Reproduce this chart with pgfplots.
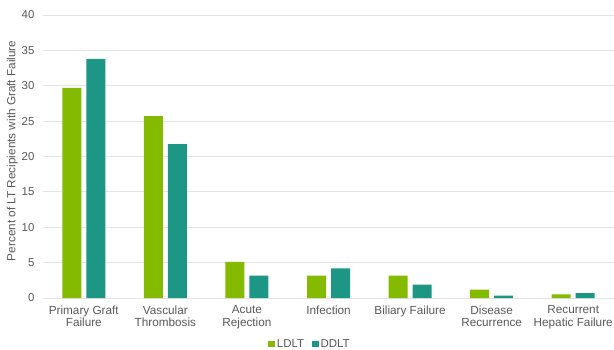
\documentclass[border=0pt]{standalone}
\usepackage{pgfplots}
\pgfplotsset{compat=1.18}
\usepackage{fontspec}
\setmainfont{Liberation Sans}
\definecolor{ldlt}{RGB}{132,187,0}
\definecolor{ddlt}{RGB}{29,150,134}
\definecolor{txt}{RGB}{89,89,89}
\definecolor{gridc}{RGB}{228,228,228}
\begin{document}
\begin{tikzpicture}
\path[use as bounding box] (-43bp,-52bp) rectangle (571bp,298bp);
\begin{axis}[
  at={(0,0)}, anchor=south west,
  scale only axis, width=571bp, height=283bp,
  ymin=0, ymax=40, ytick={0,5,...,40},
  xmin=-0.5, xmax=6.5,
  xtick={0,...,6},
  xticklabels={Primary Graft\\Failure, Vascular\\Thrombosis, Acute\\Rejection, Infection, Biliary Failure, Disease\\Recurrence, Recurrent\\Hepatic Failure},
  xticklabel style={align=center, font=\fontsize{11.8}{12.8}\selectfont, text=txt, yshift=-4bp},
  yticklabel style={font=\fontsize{11.5}{14}\selectfont, text=txt, xshift=-5bp},
  /pgf/number format/assume math mode=true,
  major tick length=0pt,
  axis line style={draw=none},
  ymajorgrids, grid style={gridc, line width=0.9pt},
  ylabel={Percent of LT Recipients with Graft Failure},
  ylabel style={font=\fontsize{11.8}{13}\selectfont, text=txt, at={(ticklabel cs:0.52)}},
  ylabel shift=-3bp,
  ybar=5bp, bar width=19bp,
  legend style={at={(0.4676,-0.1625)}, anchor=center, draw=none, legend columns=2,
    font=\fontsize{11.5}{13}\selectfont, text=txt,
    /tikz/every even column/.append style={column sep=6bp}},
  legend image code/.code={\fill[#1] (0bp,-3.2bp) rectangle (6.5bp,3.2bp);},
]
\addplot[fill=ldlt, draw=none] coordinates {(0,29.7) (1,25.7) (2,5.1) (3,3.15) (4,3.15) (5,1.2) (6,0.5)};
\addplot[fill=ddlt, draw=none] coordinates {(0,33.8) (1,21.75) (2,3.15) (3,4.2) (4,1.9) (5,0.35) (6,0.7)};
\legend{LDLT, DDLT}
\end{axis}
\end{tikzpicture}
\end{document}
